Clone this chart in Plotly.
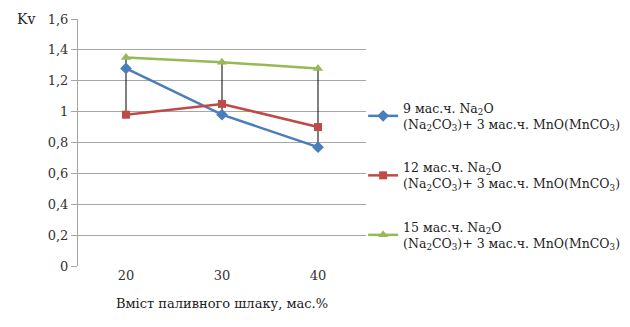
import plotly.graph_objects as go

x_vals = [20, 30, 40]
s9 = [1.28, 0.98, 0.77]
s12 = [0.98, 1.05, 0.90]
s15 = [1.35, 1.32, 1.28]
names = [
    "9 мас.ч. Na<sub>2</sub>O<br>(Na<sub>2</sub>CO<sub>3</sub>)+ 3 мас.ч. MnO(MnCO<sub>3</sub>)",
    "12 мас.ч. Na<sub>2</sub>O<br>(Na<sub>2</sub>CO<sub>3</sub>)+ 3 мас.ч. MnO(MnCO<sub>3</sub>)",
    "15 мас.ч. Na<sub>2</sub>O<br>(Na<sub>2</sub>CO<sub>3</sub>)+ 3 мас.ч. MnO(MnCO<sub>3</sub>)",
]
y_ticks = [0, 0.2, 0.4, 0.6, 0.8, 1.0, 1.2, 1.4, 1.6]
y_text = ["0", "0,2", "0,4", "0,6", "0,8", "1", "1,2", "1,4", "1,6"]
x_title = "Вміст паливного шлаку, мас.%"
y_title = "Kv"

font = "DejaVu Serif"
fig = go.Figure()

# high-low lines
hx, hy = [], []
for i, xv in enumerate(x_vals):
    vals = [s9[i], s12[i], s15[i]]
    hx += [xv, xv, None]
    hy += [min(vals), max(vals), None]
fig.add_trace(go.Scatter(x=hx, y=hy, mode="lines", line=dict(color="black", width=1),
                         showlegend=False, hoverinfo="skip"))

series = [(s9, "#4A7EBB", "diamond", 9), (s12, "#BE4B48", "square", 8), (s15, "#98B954", "triangle-up", 9)]
for (vals, col, sym, sz), nm in zip(series, names):
    fig.add_trace(go.Scatter(x=x_vals, y=vals, mode="lines+markers", name=nm,
                             line=dict(color=col, width=2.5),
                             marker=dict(symbol=sym, size=sz, color=col),
                             legendgroup=nm))

fig.update_layout(
    width=630, height=327,
    margin=dict(l=78, r=264, t=19, b=61, autoexpand=False),
    paper_bgcolor="white", plot_bgcolor="white",
    font=dict(family=font, size=12.5, color="#222"),
    showlegend=True,
    legend=dict(x=0.99, y=0.70, xanchor="left", yanchor="top",
                font=dict(family=font, size=12.5, color="#222"),
                tracegroupgap=24, itemwidth=30, bgcolor="rgba(0,0,0,0)"),
    xaxis=dict(range=[15, 45], tickvals=x_vals, ticktext=[str(v) for v in x_vals],
               showgrid=False, zeroline=False, showline=False, ticks="",
               tickfont=dict(family=font, size=13, color="#333"),
               title=dict(text=x_title, font=dict(family=font, size=13, color="#222"), standoff=16)),
    yaxis=dict(range=[0, 1.6], tickvals=y_ticks, ticktext=y_text,
               tickfont=dict(family=font, size=13, color="#333"),
               showgrid=True, gridcolor="#A6A6A6", gridwidth=1,
               zeroline=False, showline=True, linecolor="#A6A6A6", linewidth=1,
               ticks="outside", ticklen=6, tickcolor="#A6A6A6"),
    annotations=[dict(text=y_title, xref="paper", yref="paper", x=-0.22, y=1.0,
                      xanchor="left", yanchor="middle", showarrow=False,
                      font=dict(family=font, size=14, color="#222"))],
)
fig.write_html("out.html")
